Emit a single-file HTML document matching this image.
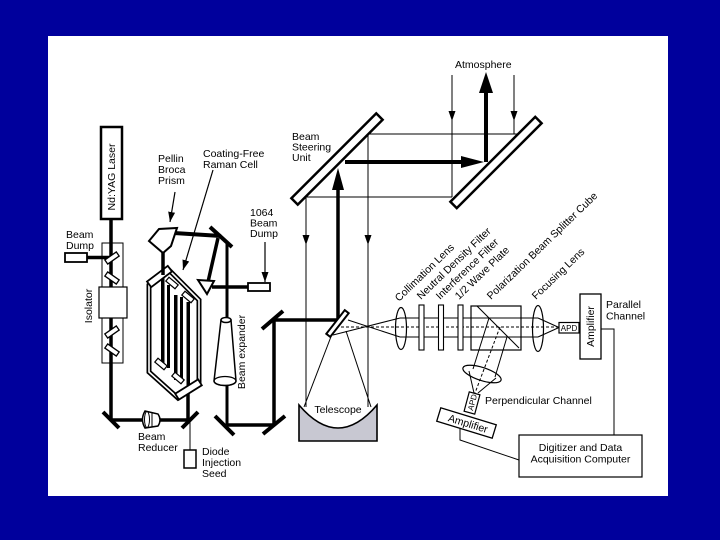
<!DOCTYPE html>
<html><head><meta charset="utf-8">
<style>
html,body{margin:0;padding:0;background:#00009c;}
svg{display:block;}
text{font-family:"Liberation Sans",Arial,sans-serif;font-size:10.5px;fill:#000;}
</style></head><body>
<svg width="720" height="540" viewBox="0 0 720 540" xmlns="http://www.w3.org/2000/svg">
<defs>
<marker id="ah" viewBox="0 0 10 7" refX="10" refY="3.5" markerWidth="10" markerHeight="7" markerUnits="userSpaceOnUse" orient="auto"><path d="M0,0 L10,3.5 L0,7 z" fill="#000"/></marker>
</defs>
<rect x="0" y="0" width="720" height="540" fill="#00009c"/>
<rect x="48" y="36" width="620" height="460" fill="#fff"/>

<g stroke="#000" fill="none">
<!-- Laser -->
<line x1="111" y1="219" x2="111" y2="421" stroke-width="3.5"/>
<rect x="101" y="127" width="21" height="92" fill="#fff" stroke-width="2.5"/>
<!-- isolator -->
<rect x="102" y="243" width="21" height="120" stroke-width="1"/>
<line x1="87" y1="257.5" x2="111" y2="257.5" stroke-width="3.5"/>
<rect x="65" y="253" width="22" height="9" fill="#fff" stroke-width="1.8"/>
<rect x="99" y="287" width="28" height="31" fill="#fff" stroke-width="1.2"/>
<rect x="105" y="255.5" width="14" height="5" fill="#fff" stroke-width="1.3" transform="rotate(-35 112 258)"/>
<rect x="105" y="275.5" width="14" height="5" fill="#fff" stroke-width="1.3" transform="rotate(35 112 278)"/>
<rect x="105" y="329.5" width="14" height="5" fill="#fff" stroke-width="1.3" transform="rotate(-35 112 332)"/>
<rect x="105" y="347.5" width="14" height="5" fill="#fff" stroke-width="1.3" transform="rotate(35 112 350)"/>
<!-- bottom path -->
<line x1="103" y1="412" x2="119" y2="428" stroke-width="4"/>
<line x1="111" y1="420" x2="190" y2="420" stroke-width="3.5"/>
<line x1="182" y1="428" x2="198" y2="412" stroke-width="4"/>
<path d="M145,411 L158,414 Q162,420 158,426 L145,428 Q140,419.5 145,411 Z" fill="#fff" stroke-width="1.5"/>
<ellipse cx="147" cy="419.5" rx="2.5" ry="8" stroke-width="1"/>
<line x1="152" y1="413" x2="152" y2="427" stroke-width="1"/>
<line x1="190" y1="420" x2="190" y2="450" stroke-width="1"/>
<rect x="184" y="450" width="12" height="18" fill="#fff" stroke-width="1.5"/>
<line x1="188" y1="420" x2="188" y2="390" stroke-width="3.5"/>

<!-- Raman cell -->
<polygon points="149,285 149,372 178,398 199,383 199,300 169,270" fill="#fff" stroke-width="5"/>
<polygon points="149,285 149,372 178,398 199,383 199,300 169,270" stroke="#fff" stroke-width="1.6"/>
<g fill="#000" stroke="none">
<rect x="161" y="270" width="3.5" height="98"/>
<rect x="167" y="285" width="3" height="83"/>
<rect x="174" y="295" width="3.5" height="85"/>
<rect x="180" y="297" width="3" height="83"/>
<rect x="186.5" y="302" width="3.5" height="90"/>
</g>
<rect x="166" y="280.5" width="12" height="5" fill="#fff" stroke-width="1.2" transform="rotate(40 172 283)"/>
<rect x="182" y="294.5" width="12" height="5" fill="#fff" stroke-width="1.2" transform="rotate(40 188 297)"/>
<rect x="155" y="361.5" width="12" height="5" fill="#fff" stroke-width="1.2" transform="rotate(40 161 364)"/>
<rect x="172" y="375.5" width="12" height="5" fill="#fff" stroke-width="1.2" transform="rotate(40 178 378)"/>
<rect x="146.5" y="273" width="26" height="7" fill="#fff" stroke-width="1.8" transform="rotate(-37 159.5 276.5)"/>
<rect x="175" y="386" width="27" height="7" fill="#fff" stroke-width="1.8" transform="rotate(-32 188.5 389.5)"/>

<!-- prism & upper beams -->
<line x1="163" y1="250" x2="163" y2="275" stroke-width="3.5"/>
<line x1="174" y1="233" x2="221" y2="236" stroke-width="4"/>
<polygon points="149,241 159,229 177,228 171,246 163,253" fill="#fff" stroke-width="2"/>
<line x1="210" y1="227" x2="232" y2="247" stroke-width="4"/>
<line x1="218" y1="238" x2="208" y2="282" stroke-width="3.5"/>
<line x1="227" y1="242" x2="227" y2="425" stroke-width="3"/>
<line x1="212" y1="287" x2="248" y2="287" stroke-width="3.5"/>
<polygon points="198,280 214,281 207,294" fill="#fff" stroke-width="2"/>
<rect x="248" y="283" width="22" height="8" fill="#fff" stroke-width="1.8"/>
<line x1="265" y1="242" x2="265" y2="282" stroke-width="1.2" marker-end="url(#ah)"/>
<line x1="175" y1="192" x2="170" y2="222" stroke-width="1.2" marker-end="url(#ah)"/>
<line x1="213" y1="170" x2="183" y2="270" stroke-width="1.2" marker-end="url(#ah)"/>
<!-- beam expander -->
<path d="M221,320 L214,381 A11,4.5 0 0 0 236,381 L231,320 Z" fill="#fff" stroke-width="1.5"/>
<ellipse cx="226" cy="320" rx="5" ry="2.5" fill="#fff" stroke-width="1.5"/>
<ellipse cx="225" cy="381" rx="11" ry="4.5" stroke-width="1.3"/>
<!-- lower mirrors -->
<line x1="215" y1="416" x2="234" y2="435" stroke-width="4"/>
<line x1="227" y1="425" x2="274" y2="425" stroke-width="3.5"/>
<line x1="263" y1="434" x2="285" y2="416" stroke-width="4"/>
<line x1="274" y1="425" x2="274" y2="320" stroke-width="3.5"/>
<line x1="262" y1="329" x2="283" y2="311" stroke-width="4"/>
<line x1="274" y1="320" x2="338" y2="320" stroke-width="3.5"/>
<line x1="338" y1="320" x2="338" y2="186" stroke-width="3.5"/>
<polygon points="332,190 344,190 338,168" fill="#000" stroke="none"/>

<!-- steering mirrors -->
<rect x="277" y="154.5" width="120" height="9" fill="#fff" stroke-width="2.5" transform="rotate(-45 337 159)"/>
<rect x="436" y="158" width="120" height="9" fill="#fff" stroke-width="2.5" transform="rotate(-45 496 162.5)"/>
<line x1="345" y1="162" x2="464" y2="162" stroke-width="4"/>
<polygon points="461,156 461,168 484,162" fill="#000" stroke="none"/>
<line x1="486" y1="162" x2="486" y2="90" stroke-width="4"/>
<polygon points="479,93 493,93 486,72" fill="#000" stroke="none"/>
<line x1="370" y1="134" x2="517" y2="134" stroke-width="1"/>
<line x1="304" y1="197" x2="452" y2="197" stroke-width="1"/>
<line x1="452" y1="75" x2="452" y2="121" stroke-width="1" marker-end="url(#ah)"/>
<line x1="452" y1="120" x2="452" y2="197" stroke-width="1"/>
<line x1="514" y1="75" x2="514" y2="121" stroke-width="1" marker-end="url(#ah)"/>
<line x1="514" y1="120" x2="514" y2="134" stroke-width="1"/>
<line x1="306" y1="197" x2="306" y2="245" stroke-width="1" marker-end="url(#ah)"/>
<line x1="306" y1="244" x2="306" y2="407" stroke-width="1"/>
<line x1="368" y1="135" x2="368" y2="245" stroke-width="1" marker-end="url(#ah)"/>
<line x1="368" y1="244" x2="368" y2="407" stroke-width="1"/>

<!-- telescope -->
<path d="M299,405 L299,441 L377,441 L377,405 Q338,451 299,405 Z" fill="#c8c8d2" stroke-width="1.6"/>
<line x1="304" y1="407" x2="332" y2="334" stroke-width="1"/>
<line x1="371" y1="407" x2="346" y2="331" stroke-width="1"/>
<rect x="322.5" y="321" width="30" height="5" fill="#fff" stroke-width="2" transform="rotate(-52 337.5 323.5)"/>
<line x1="333" y1="335" x2="400" y2="318" stroke-width="1"/>
<line x1="348" y1="320" x2="400" y2="337" stroke-width="1"/>
<line x1="341" y1="327" x2="559" y2="327" stroke-width="1" stroke-dasharray="3,2"/>
<line x1="400" y1="318" x2="538" y2="318" stroke-width="1"/>
<line x1="400" y1="337" x2="538" y2="337" stroke-width="1"/>
<line x1="538" y1="318" x2="559" y2="327.5" stroke-width="1"/>
<line x1="538" y1="337" x2="559" y2="327.5" stroke-width="1"/>
<ellipse cx="401" cy="328.5" rx="5.5" ry="21" stroke-width="1.2"/>
<rect x="419" y="305" width="5" height="45" fill="#fff" stroke-width="1.1"/>
<rect x="438.5" y="305" width="5" height="45" fill="#fff" stroke-width="1.1"/>
<rect x="458" y="305" width="5" height="45" fill="#fff" stroke-width="1.1"/>
<rect x="471" y="306" width="50" height="44" stroke-width="1.2"/>
<line x1="477" y1="306" x2="519" y2="348" stroke-width="1.1"/>
<ellipse cx="538" cy="328.5" rx="5.5" ry="23" stroke-width="1.2"/>
<!-- perpendicular -->
<line x1="489" y1="318" x2="473" y2="369" stroke-width="1"/>
<line x1="507" y1="337" x2="495" y2="377" stroke-width="1"/>
<line x1="500" y1="327" x2="475" y2="393" stroke-width="1" stroke-dasharray="3,2"/>
<ellipse cx="482" cy="374" rx="20" ry="6.5" stroke-width="1.2" transform="rotate(18 482 374)"/>
<line x1="469" y1="371" x2="474" y2="393" stroke-width="1"/>
<line x1="496" y1="378" x2="478" y2="393" stroke-width="1"/>
<rect x="466.5" y="393" width="11" height="20" fill="#fff" stroke-width="1.2" transform="rotate(15 472 403)"/>
<rect x="437.5" y="416" width="58" height="14" fill="#fff" stroke-width="1.3" transform="rotate(17 466.5 423)"/>
<polyline points="460,428 460,440 519,460" stroke-width="1"/>
<!-- parallel -->
<rect x="559" y="322.5" width="20" height="10.5" fill="#fff" stroke-width="1.2"/>
<rect x="580" y="294" width="21" height="65" fill="#fff" stroke-width="1.3"/>
<polyline points="601,329 614,329 614,435" stroke-width="1"/>
<rect x="519" y="435" width="123" height="42" fill="#fff" stroke-width="1.2"/>
</g>

<!-- text -->
<text transform="translate(115,177) rotate(-90)" text-anchor="middle">Nd:YAG Laser</text>
<text transform="translate(92,306) rotate(-90)" text-anchor="middle">Isolator</text>
<text x="66" y="238">Beam</text>
<text x="66" y="249">Dump</text>
<text x="138" y="440">Beam</text>
<text x="138" y="451">Reducer</text>
<text x="202" y="455">Diode</text>
<text x="202" y="466">Injection</text>
<text x="202" y="477">Seed</text>
<text x="158" y="162">Pellin</text>
<text x="158" y="173">Broca</text>
<text x="158" y="184">Prism</text>
<text x="203" y="157">Coating-Free</text>
<text x="203" y="168">Raman Cell</text>
<text x="250" y="216">1064</text>
<text x="250" y="226.5">Beam</text>
<text x="250" y="237">Dump</text>
<text transform="translate(245,352) rotate(-90)" text-anchor="middle">Beam expander</text>
<text x="455" y="68">Atmosphere</text>
<text x="292" y="140">Beam</text>
<text x="292" y="150.5">Steering</text>
<text x="292" y="161">Unit</text>
<text x="338" y="413" text-anchor="middle">Telescope</text>
<text transform="translate(399,302) rotate(-44)">Collimation Lens</text>
<text transform="translate(421,300) rotate(-44)">Neutral Density Filter</text>
<text transform="translate(440,300) rotate(-44)">Interference Filter</text>
<text transform="translate(459,300) rotate(-44)">1/2 Wave Plate</text>
<text transform="translate(491,300) rotate(-44)">Polarization Beam Splitter Cube</text>
<text transform="translate(536,300) rotate(-44)">Focusing Lens</text>
<text x="569" y="331" text-anchor="middle" style="font-size:8px">APD</text>
<text transform="translate(594,326.5) rotate(-90)" text-anchor="middle">Amplifier</text>
<text x="606" y="308">Parallel</text>
<text x="606" y="319.5">Channel</text>
<text transform="translate(475,403) rotate(-75)" text-anchor="middle" style="font-size:8px">APD</text>
<text transform="translate(467,427) rotate(17)" text-anchor="middle">Amplifier</text>
<text x="485" y="404">Perpendicular Channel</text>
<text x="580.5" y="451" text-anchor="middle">Digitizer and Data</text>
<text x="580.5" y="462.5" text-anchor="middle">Acquisition Computer</text>
</svg>
</body></html>
